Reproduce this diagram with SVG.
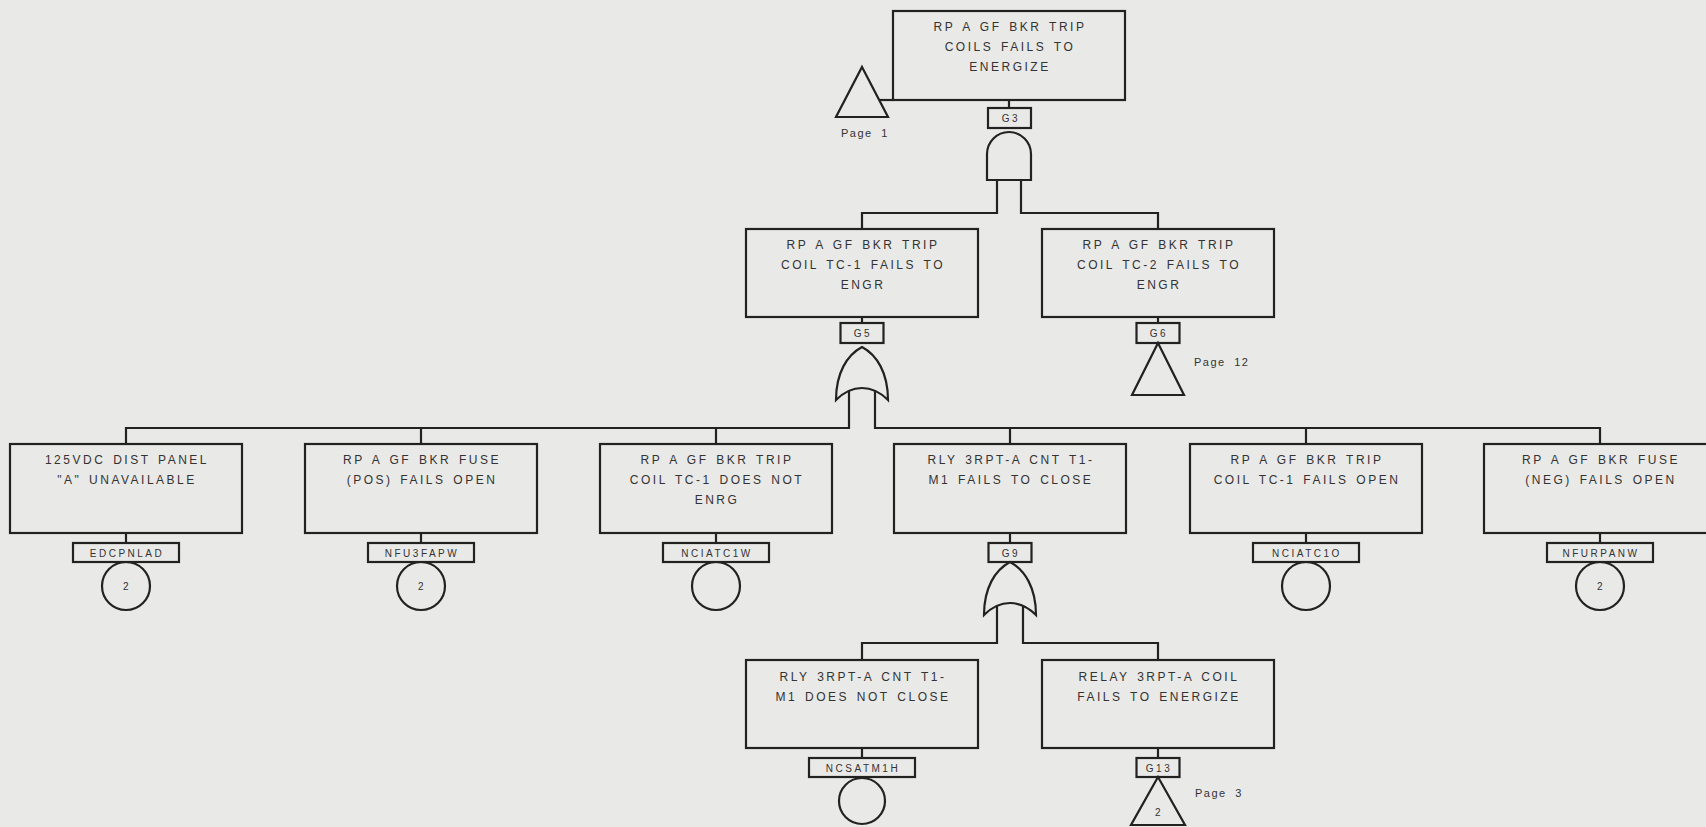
<svg xmlns="http://www.w3.org/2000/svg" width="1706" height="827" viewBox="0 0 1706 827">
<style>
.bg{fill:#e9e9e7}
.ln{fill:none;stroke:#222;stroke-width:2.2}
.bx{fill:none;stroke:#222;stroke-width:2.2}
.t{font-family:"Liberation Sans",Arial,sans-serif;font-size:12px;fill:#333;text-anchor:middle;letter-spacing:2.5px;word-spacing:2px}
.lb{font-size:10px;letter-spacing:2.5px}
.pg{font-size:11px;letter-spacing:1.5px;word-spacing:4px;text-anchor:start}
</style>
<rect class="bg" x="0" y="0" width="1706" height="827"/>
<g id="connectors">
<path class="ln" d="M1009,100V108"/>
<path class="ln" d="M879,100H893"/>
<path class="ln" d="M997,180V213H862V229"/>
<path class="ln" d="M1021,180V213H1158V229"/>
<path class="ln" d="M862,317V323"/>
<path class="ln" d="M1158,317V323"/>
<path class="ln" d="M849,391V428H126V444"/>
<path class="ln" d="M875,391V428H1600V444"/>
<path class="ln" d="M421,428V444M716,428V444M1010,428V444M1306,428V444"/>
<path class="ln" d="M126,533V543M421,533V543M716,533V543M1010,533V543M1306,533V543M1600,533V543"/>
<path class="ln" d="M997,606V643H862V660"/>
<path class="ln" d="M1023,606V643H1158V660"/>
<path class="ln" d="M862,748V758M1158,748V758"/>
</g>
<g id="page1">
<path class="bx" d="M862,67L888,117H836Z"/>
<text class="t pg" x="841" y="137">Page 1</text>
</g>
<g id="G3">
<rect class="bx" x="893" y="11" width="232" height="89"/>
<text class="t" x="1010" y="31">RP A GF BKR TRIP</text>
<text class="t" x="1010" y="51">COILS FAILS TO</text>
<text class="t" x="1010" y="71">ENERGIZE</text>
<rect class="bx" x="988" y="108" width="43" height="20"/>
<text class="t lb" x="1011" y="122">G3</text>
<path class="bx" d="M987,180V154A22,22 0 0 1 1031,154V180Z"/>
</g>
<g id="G5">
<rect class="bx" x="746" y="229" width="232" height="88"/>
<text class="t" x="863" y="249">RP A GF BKR TRIP</text>
<text class="t" x="863" y="269">COIL TC-1 FAILS TO</text>
<text class="t" x="863" y="289">ENGR</text>
<rect class="bx" x="840.5" y="323" width="43" height="20"/>
<text class="t lb" x="863" y="337">G5</text>
<path class="bx" d="M862,347C877,355 888,373 888,400Q876,388 862,388Q848,388 836,400C836,373 847,355 862,347Z"/>
</g>
<g id="G6">
<rect class="bx" x="1042" y="229" width="232" height="88"/>
<text class="t" x="1159" y="249">RP A GF BKR TRIP</text>
<text class="t" x="1159" y="269">COIL TC-2 FAILS TO</text>
<text class="t" x="1159" y="289">ENGR</text>
<rect class="bx" x="1136.5" y="323" width="43" height="20"/>
<text class="t lb" x="1159" y="337">G6</text>
<path class="bx" d="M1158,343L1184,395H1132Z"/>
<text class="t pg" x="1194" y="366">Page 12</text>
</g>
<g id="EDCPNLAD">
<rect class="bx" x="10" y="444" width="232" height="89"/>
<text class="t" x="127" y="464">125VDC DIST PANEL</text>
<text class="t" x="127" y="484">"A" UNAVAILABLE</text>
<rect class="bx" x="73" y="543" width="106" height="19"/>
<text class="t lb" x="127" y="556.5">EDCPNLAD</text>
<circle class="bx" cx="126" cy="586" r="24"/>
<text class="t lb" x="127" y="590">2</text>
</g>
<g id="NFU3FAPW">
<rect class="bx" x="305" y="444" width="232" height="89"/>
<text class="t" x="422" y="464">RP A GF BKR FUSE</text>
<text class="t" x="422" y="484">(POS) FAILS OPEN</text>
<rect class="bx" x="368" y="543" width="106" height="19"/>
<text class="t lb" x="422" y="556.5">NFU3FAPW</text>
<circle class="bx" cx="421" cy="586" r="24"/>
<text class="t lb" x="422" y="590">2</text>
</g>
<g id="NCIATC1W">
<rect class="bx" x="600" y="444" width="232" height="89"/>
<text class="t" x="717" y="464">RP A GF BKR TRIP</text>
<text class="t" x="717" y="484">COIL TC-1 DOES NOT</text>
<text class="t" x="717" y="504">ENRG</text>
<rect class="bx" x="663" y="543" width="106" height="19"/>
<text class="t lb" x="717" y="556.5">NCIATC1W</text>
<circle class="bx" cx="716" cy="586" r="24"/>
</g>
<g id="G9">
<rect class="bx" x="894" y="444" width="232" height="89"/>
<text class="t" x="1011" y="464">RLY 3RPT-A CNT T1-</text>
<text class="t" x="1011" y="484">M1 FAILS TO CLOSE</text>
<rect class="bx" x="988.5" y="543" width="43" height="19"/>
<text class="t lb" x="1011" y="556.5">G9</text>
<path class="bx" d="M1010,562C1025,570 1036,588 1036,615Q1024,603 1010,603Q996,603 984,615C984,588 995,570 1010,562Z"/>
</g>
<g id="NCIATC1O">
<rect class="bx" x="1190" y="444" width="232" height="89"/>
<text class="t" x="1307" y="464">RP A GF BKR TRIP</text>
<text class="t" x="1307" y="484">COIL TC-1 FAILS OPEN</text>
<rect class="bx" x="1253" y="543" width="106" height="19"/>
<text class="t lb" x="1307" y="556.5">NCIATC1O</text>
<circle class="bx" cx="1306" cy="586" r="24"/>
</g>
<g id="NFURPANW">
<rect class="bx" x="1484" y="444" width="232" height="89"/>
<text class="t" x="1601" y="464">RP A GF BKR FUSE</text>
<text class="t" x="1601" y="484">(NEG) FAILS OPEN</text>
<rect class="bx" x="1547" y="543" width="106" height="19"/>
<text class="t lb" x="1601" y="556.5">NFURPANW</text>
<circle class="bx" cx="1600" cy="586" r="24"/>
<text class="t lb" x="1601" y="590">2</text>
</g>
<g id="NCSATM1H">
<rect class="bx" x="746" y="660" width="232" height="88"/>
<text class="t" x="863" y="681">RLY 3RPT-A CNT T1-</text>
<text class="t" x="863" y="701">M1 DOES NOT CLOSE</text>
<rect class="bx" x="809" y="758" width="106" height="19"/>
<text class="t lb" x="863" y="771.5">NCSATM1H</text>
<circle class="bx" cx="862" cy="801" r="23"/>
</g>
<g id="G13">
<rect class="bx" x="1042" y="660" width="232" height="88"/>
<text class="t" x="1159" y="681">RELAY 3RPT-A COIL</text>
<text class="t" x="1159" y="701">FAILS TO ENERGIZE</text>
<rect class="bx" x="1136.5" y="758" width="43" height="19"/>
<text class="t lb" x="1159" y="771.5">G13</text>
<path class="bx" d="M1158,777L1185,825H1131Z"/>
<text class="t lb" x="1159" y="816">2</text>
<text class="t pg" x="1195" y="797">Page 3</text>
</g>
</svg>
